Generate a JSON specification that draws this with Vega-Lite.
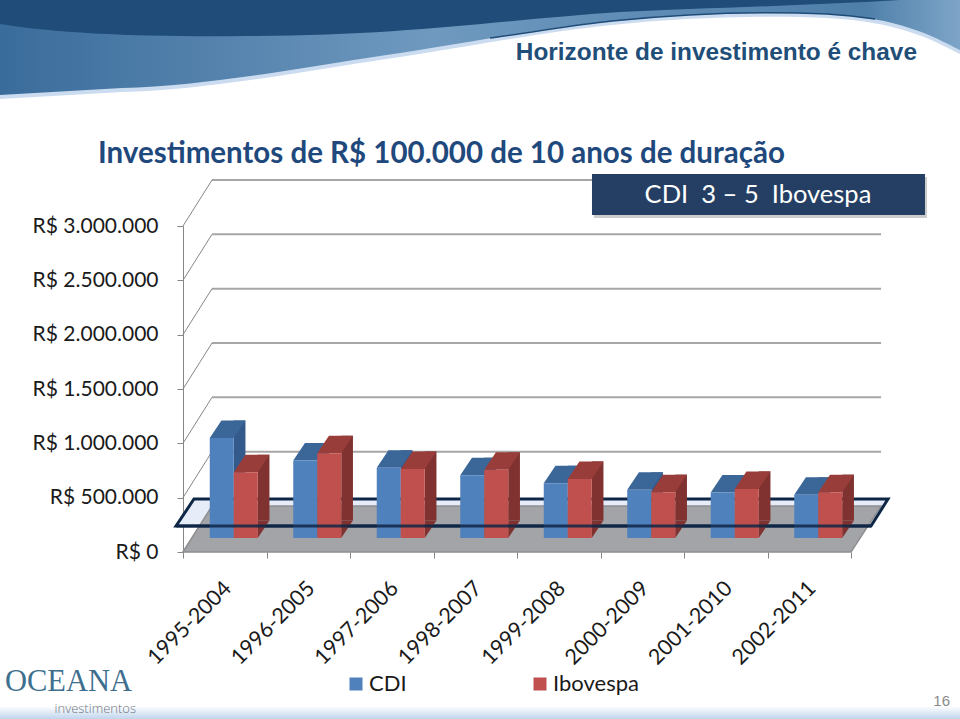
{
"$schema":"https://vega.github.io/schema/vega-lite/v6.json",
"width":960,"height":719,"autosize":"none","padding":0,"background":"white","view":{"stroke":null},
"datasets":{
"bars":[
{"period":"1995-2004","series":"CDI","value":920000},{"period":"1995-2004","series":"Ibovespa","value":606000},
{"period":"1996-2005","series":"CDI","value":713000},{"period":"1996-2005","series":"Ibovespa","value":781000},
{"period":"1997-2006","series":"CDI","value":646000},{"period":"1997-2006","series":"Ibovespa","value":634000},
{"period":"1998-2007","series":"CDI","value":578000},{"period":"1998-2007","series":"Ibovespa","value":627000},
{"period":"1999-2008","series":"CDI","value":504000},{"period":"1999-2008","series":"Ibovespa","value":544000},
{"period":"2000-2009","series":"CDI","value":443000},{"period":"2000-2009","series":"Ibovespa","value":422000},
{"period":"2001-2010","series":"CDI","value":418000},{"period":"2001-2010","series":"Ibovespa","value":452000},
{"period":"2002-2011","series":"CDI","value":397000},{"period":"2002-2011","series":"Ibovespa","value":422000}],
"levels":[{"level":0},{"level":500000},{"level":1000000},{"level":1500000},{"level":2000000},{"level":2500000},{"level":3000000}],
"one":[{"item":"decor"}]
},
"resolve":{"scale":{"x":"independent"},"axis":{"x":"independent","y":"independent"}},
"layer":[
{"data":{"name":"one"},"mark":{"type":"point","shape":"M0,0L960,0L960,50C930,35 900,18 827,14C760,11 680,14 612,21C540,28 440,48 367,58C290,70 200,86 122,88L0,95Z","size":4,"filled":true,"fill":"#C5D8EE","opacity":0.9,"strokeWidth":0,"yOffset":4},
 "encoding":{"x":{"datum":-2.1916,"type":"quantitative","scale":{"domain":[0,8],"range":[183,851],"nice":false,"zero":false},"axis":null},"y":{"datum":5079800,"type":"quantitative","scale":{"domain":[0,3000000],"range":[552,226],"nice":false,"zero":false},"axis":null}}},
{"data":{"name":"one"},"mark":{"type":"point","shape":"M0,0L960,0L960,50C930,35 900,18 827,14C760,11 680,14 612,21C540,28 440,48 367,58C290,70 200,86 122,88L0,95Z","size":4,"filled":true,"opacity":1,"strokeWidth":0,"fill":{"gradient":"linear","x1":0,"y1":0,"x2":1,"y2":0,"stops":[{"offset":0,"color":"#3A6C9B"},{"offset":0.45,"color":"#6F99BF"},{"offset":0.9,"color":"#4E7FA9"},{"offset":1,"color":"#7EA5C8"}]}},
 "encoding":{"x":{"datum":-2.1916,"type":"quantitative","scale":{"domain":[0,8],"range":[183,851],"nice":false,"zero":false},"axis":null},"y":{"datum":5079800,"type":"quantitative","scale":{"domain":[0,3000000],"range":[552,226],"nice":false,"zero":false},"axis":null}}},
{"data":{"name":"one"},"mark":{"type":"point","shape":"M0,0L900,0C800,6 700,8 620,12C500,20 400,36 245,36C150,37 60,34 0,24Z","size":4,"filled":true,"opacity":1,"strokeWidth":0,"fill":"#1F4C78"},
 "encoding":{"x":{"datum":-2.1916,"type":"quantitative","scale":{"domain":[0,8],"range":[183,851],"nice":false,"zero":false},"axis":null},"y":{"datum":5079800,"type":"quantitative","scale":{"domain":[0,3000000],"range":[552,226],"nice":false,"zero":false},"axis":null}}},
{"data":{"name":"one"},"mark":{"type":"point","shape":"M490,38C530,33 572,25 612,21C680,14 760,11 827,14C845,15 862,17 875,19","size":4,"filled":false,"opacity":1,"stroke":"#1F4C78","strokeWidth":1.5},
 "encoding":{"x":{"datum":-2.1916,"type":"quantitative","scale":{"domain":[0,8],"range":[183,851],"nice":false,"zero":false},"axis":null},"y":{"datum":5079800,"type":"quantitative","scale":{"domain":[0,3000000],"range":[552,226],"nice":false,"zero":false},"axis":null}}},
{"data":{"name":"one"},"mark":{"type":"point","shape":"M0,0L960,0L960,14L0,14Z","size":4,"filled":true,"opacity":1,"strokeWidth":0,"fill":{"gradient":"linear","x1":0,"y1":0,"x2":0,"y2":1,"stops":[{"offset":0,"color":"#FFFFFF"},{"offset":1,"color":"#BBD2EC"}]}},
 "encoding":{"x":{"datum":-2.1916,"type":"quantitative","scale":{"domain":[0,8],"range":[183,851],"nice":false,"zero":false},"axis":null},"y":{"datum":-1417000,"type":"quantitative","scale":{"domain":[0,3000000],"range":[552,226],"nice":false,"zero":false},"axis":null}}},
{"data":{"name":"levels"},"mark":{"type":"rule","color":"#A6A6A6","strokeWidth":2,"yOffset":-46},
 "encoding":{"x":{"datum":0.347,"type":"quantitative","scale":{"domain":[0,8],"range":[183,851],"nice":false,"zero":false},"axis":null},"x2":{"datum":8.36},
 "y":{"field":"level","type":"quantitative","scale":{"domain":[0,3000000],"range":[552,226],"nice":false,"zero":false},
 "axis":{"title":null,"values":[0,500000,1000000,1500000,2000000,2500000,3000000],"offset":-183,"grid":false,"domainColor":"#868686","tickColor":"#868686","tickSize":6,"labelPadding":19,"labelFont":"Lato","labelFontSize":21,"labelColor":"#1A1A1A","labelExpr":"'R$ ' + replace(format(datum.value, ',d'), /,/g, '.')"}}}},
{"data":{"name":"levels"},"mark":{"type":"point","shape":"M0,0L29,-46","size":4,"filled":false,"opacity":1,"stroke":"#868686","strokeWidth":1},
 "encoding":{"x":{"datum":0,"type":"quantitative","scale":{"domain":[0,8],"range":[183,851],"nice":false,"zero":false},"axis":null},"y":{"field":"level","type":"quantitative","scale":{"domain":[0,3000000],"range":[552,226],"nice":false,"zero":false},"axis":null}}},
{"data":{"name":"one"},"mark":{"type":"point","shape":"M0,0L18,-27L712,-27L695,0Z","size":4,"filled":true,"opacity":1,"fill":"#E6EDF8","strokeWidth":0},
 "encoding":{"x":{"datum":-0.084,"type":"quantitative","scale":{"domain":[0,8],"range":[183,851],"nice":false,"zero":false},"axis":null},"y":{"datum":239000,"type":"quantitative","scale":{"domain":[0,3000000],"range":[552,226],"nice":false,"zero":false},"axis":null}}},
{"data":{"name":"one"},"mark":{"type":"point","shape":"M0,0L29,-46L698,-46L668,0Z","size":4,"filled":true,"opacity":1,"fill":"#A3A4A8","stroke":"#8F8F92","strokeWidth":1.5},
 "encoding":{"x":{"datum":0,"type":"quantitative","scale":{"domain":[0,8],"range":[183,851],"nice":false,"zero":false},"axis":null},"y":{"datum":0,"type":"quantitative","scale":{"domain":[0,3000000],"range":[552,226],"nice":false,"zero":false},"axis":null}}},
{"data":{"name":"one"},"mark":{"type":"point","shape":"M0,0L18,-27L712,-27L695,0Z","size":4,"filled":false,"opacity":1,"stroke":"#0F2747","strokeWidth":3},
 "encoding":{"x":{"datum":-0.084,"type":"quantitative","scale":{"domain":[0,8],"range":[183,851],"nice":false,"zero":false},"axis":null},"y":{"datum":239000,"type":"quantitative","scale":{"domain":[0,3000000],"range":[552,226],"nice":false,"zero":false},"axis":null}}},

{"data":{"name":"bars"},"transform":[{"filter":"datum.series==='CDI'"}],"mark":{"type":"bar","color":"#335A8A","width":11.7,"xOffset":14.85,"yOffset":-31.5,"y2Offset":-31.5},
 "encoding":{"x":{"field":"period","type":"nominal","sort":null,"scale":{"range":[183,851],"paddingInner":0,"paddingOuter":0},
  "axis":{"title":null,"offset":-167,"domain":false,"tickColor":"#868686","tickSize":6,"tickBand":"extent","labelAngle":-45,"labelAlign":"right","labelBaseline":"middle","labelPadding":27,"labelOffset":3,"labelBound":false,"labelOverlap":false,"labelFont":"Lato","labelFontSize":21.5,"labelColor":"#1A1A1A"}},
  "y":{"field":"value","type":"quantitative","stack":null,"scale":{"domain":[0,3000000],"range":[552,226],"nice":false,"zero":false},"axis":null},"y2":{"datum":0}}},
{"data":{"name":"bars"},"transform":[{"filter":"datum.series==='CDI'"}],"mark":{"type":"point","shape":"M12,0L23.7,-17.5L12,-17.5Z","size":4,"filled":true,"opacity":1,"strokeWidth":0,"fill":"#335A8A","xOffset":-3,"yOffset":-14},
 "encoding":{"x":{"field":"period","type":"nominal","sort":null,"scale":{"range":[183,851],"paddingInner":0,"paddingOuter":0},"axis":null},"y":{"datum":0,"type":"quantitative","scale":{"domain":[0,3000000],"range":[552,226],"nice":false,"zero":false},"axis":null}}},
{"data":{"name":"bars"},"transform":[{"filter":"datum.series==='CDI'"}],"mark":{"type":"point","shape":"M-12,0L12,0L23.7,-17.5L-0.3,-17.5Z","size":4,"filled":true,"opacity":1,"strokeWidth":0,"fill":"#3B6698","xOffset":-3,"yOffset":-14},
 "encoding":{"x":{"field":"period","type":"nominal","sort":null,"scale":{"range":[183,851],"paddingInner":0,"paddingOuter":0},"axis":null},"y":{"field":"value","type":"quantitative","scale":{"domain":[0,3000000],"range":[552,226],"nice":false,"zero":false},"axis":null}}},
{"data":{"name":"bars"},"transform":[{"filter":"datum.series==='CDI'"}],"mark":{"type":"bar","width":24,"xOffset":-3,"yOffset":-14,"y2Offset":-14},
 "encoding":{"x":{"field":"period","type":"nominal","sort":null,"scale":{"range":[183,851],"paddingInner":0,"paddingOuter":0},"axis":null},"y":{"field":"value","type":"quantitative","stack":null,"scale":{"domain":[0,3000000],"range":[552,226],"nice":false,"zero":false},"axis":null},"y2":{"datum":0},
 "color":{"field":"series","type":"nominal","scale":{"domain":["CDI","Ibovespa"],"range":["#4F81BD","#C0504D"]},
  "legend":{"title":null,"orient":"none","legendX":345,"legendY":673,"direction":"horizontal","symbolType":"square","symbolSize":169,"symbolStrokeWidth":0,"symbolOpacity":1,"labelFont":"Lato","labelFontSize":22,"labelColor":"#1A1A1A","labelOffset":2,"columnPadding":122}}}},

{"data":{"name":"bars"},"transform":[{"filter":"datum.series==='Ibovespa'"}],"mark":{"type":"bar","color":"#7F3230","width":11.7,"xOffset":38.85,"yOffset":-31.5,"y2Offset":-31.5},
 "encoding":{"x":{"field":"period","type":"nominal","sort":null,"scale":{"range":[183,851],"paddingInner":0,"paddingOuter":0},"axis":null},"y":{"field":"value","type":"quantitative","stack":null,"scale":{"domain":[0,3000000],"range":[552,226],"nice":false,"zero":false},"axis":null},"y2":{"datum":0}}},
{"data":{"name":"bars"},"transform":[{"filter":"datum.series==='Ibovespa'"}],"mark":{"type":"point","shape":"M12,0L23.7,-17.5L12,-17.5Z","size":4,"filled":true,"opacity":1,"strokeWidth":0,"fill":"#7F3230","xOffset":21,"yOffset":-14},
 "encoding":{"x":{"field":"period","type":"nominal","sort":null,"scale":{"range":[183,851],"paddingInner":0,"paddingOuter":0},"axis":null},"y":{"datum":0,"type":"quantitative","scale":{"domain":[0,3000000],"range":[552,226],"nice":false,"zero":false},"axis":null}}},
{"data":{"name":"bars"},"transform":[{"filter":"datum.series==='Ibovespa'"}],"mark":{"type":"point","shape":"M-12,0L12,0L23.7,-17.5L-0.3,-17.5Z","size":4,"filled":true,"opacity":1,"strokeWidth":0,"fill":"#983D3A","xOffset":21,"yOffset":-14},
 "encoding":{"x":{"field":"period","type":"nominal","sort":null,"scale":{"range":[183,851],"paddingInner":0,"paddingOuter":0},"axis":null},"y":{"field":"value","type":"quantitative","scale":{"domain":[0,3000000],"range":[552,226],"nice":false,"zero":false},"axis":null}}},
{"data":{"name":"bars"},"transform":[{"filter":"datum.series==='Ibovespa'"}],"mark":{"type":"bar","width":24,"xOffset":21,"yOffset":-14,"y2Offset":-14},
 "encoding":{"x":{"field":"period","type":"nominal","sort":null,"scale":{"range":[183,851],"paddingInner":0,"paddingOuter":0},"axis":null},"y":{"field":"value","type":"quantitative","stack":null,"scale":{"domain":[0,3000000],"range":[552,226],"nice":false,"zero":false},"axis":null},"y2":{"datum":0},
 "color":{"field":"series","type":"nominal","scale":{"domain":["CDI","Ibovespa"],"range":["#4F81BD","#C0504D"]}}}},

{"data":{"name":"one"},"mark":{"type":"point","shape":"M0,0L695,0","size":4,"filled":false,"opacity":0.85,"stroke":"#0F2747","strokeWidth":3},
 "encoding":{"x":{"datum":-0.084,"type":"quantitative","scale":{"domain":[0,8],"range":[183,851],"nice":false,"zero":false},"axis":null},"y":{"datum":239000,"type":"quantitative","scale":{"domain":[0,3000000],"range":[552,226],"nice":false,"zero":false},"axis":null}}},
{"data":{"name":"one"},"mark":{"type":"point","shape":"M0,0L333,0L333,41L0,41Z","size":4,"filled":true,"opacity":0.25,"fill":"#333333","strokeWidth":0,"xOffset":2,"yOffset":3},
 "encoding":{"x":{"datum":4.898,"type":"quantitative","scale":{"domain":[0,8],"range":[183,851],"nice":false,"zero":false},"axis":null},"y":{"datum":3478500,"type":"quantitative","scale":{"domain":[0,3000000],"range":[552,226],"nice":false,"zero":false},"axis":null}}},
{"data":{"name":"one"},"mark":{"type":"point","shape":"M0,0L333,0L333,41L0,41Z","size":4,"filled":true,"opacity":1,"fill":"#243F63","strokeWidth":0},
 "encoding":{"x":{"datum":4.898,"type":"quantitative","scale":{"domain":[0,8],"range":[183,851],"nice":false,"zero":false},"axis":null},"y":{"datum":3478500,"type":"quantitative","scale":{"domain":[0,3000000],"range":[552,226],"nice":false,"zero":false},"axis":null}}},
{"data":{"values":[{"label":"CDI\u00a0\u00a03 – 5\u00a0\u00a0Ibovespa"}]},"mark":{"type":"text","font":"Lato","fontSize":25.5,"color":"white","align":"center","baseline":"middle"},
 "encoding":{"text":{"field":"label"},"x":{"datum":6.886,"type":"quantitative","scale":{"domain":[0,8],"range":[183,851],"nice":false,"zero":false},"axis":null},"y":{"datum":3285000,"type":"quantitative","scale":{"domain":[0,3000000],"range":[552,226],"nice":false,"zero":false},"axis":null}}},
{"data":{"values":[{"label":"Investimentos de R$ 100.000 de 10 anos de duração"}]},"mark":{"type":"text","font":"Lato","fontSize":29.5,"fontWeight":"bold","color":"#1F497D","align":"left","baseline":"middle"},
 "encoding":{"text":{"field":"label"},"x":{"datum":-1.018,"type":"quantitative","scale":{"domain":[0,8],"range":[183,851],"nice":false,"zero":false},"axis":null},"y":{"datum":3663000,"type":"quantitative","scale":{"domain":[0,3000000],"range":[552,226],"nice":false,"zero":false},"axis":null}}},
{"data":{"values":[{"label":"Horizonte de investimento é chave"}]},"mark":{"type":"text","font":"Liberation Sans","fontSize":24.4,"fontWeight":"bold","color":"#1F4E79","align":"right","baseline":"middle"},
 "encoding":{"text":{"field":"label"},"x":{"datum":8.79,"type":"quantitative","scale":{"domain":[0,8],"range":[183,851],"nice":false,"zero":false},"axis":null},"y":{"datum":4592000,"type":"quantitative","scale":{"domain":[0,3000000],"range":[552,226],"nice":false,"zero":false},"axis":null}}},
{"data":{"values":[{"label":"OCEANA"}]},"mark":{"type":"text","font":"Liberation Serif","fontSize":30.5,"color":"#3E6F8E","align":"left","baseline":"middle"},
 "encoding":{"text":{"field":"label"},"x":{"datum":-2.132,"type":"quantitative","scale":{"domain":[0,8],"range":[183,851],"nice":false,"zero":false},"axis":null},"y":{"datum":-1197000,"type":"quantitative","scale":{"domain":[0,3000000],"range":[552,226],"nice":false,"zero":false},"axis":null}}},
{"data":{"values":[{"label":"investimentos"}]},"mark":{"type":"text","font":"Open Sans","fontWeight":300,"fontSize":13,"color":"#6E7780","align":"right","baseline":"middle"},
 "encoding":{"text":{"field":"label"},"x":{"datum":-0.563,"type":"quantitative","scale":{"domain":[0,8],"range":[183,851],"nice":false,"zero":false},"axis":null},"y":{"datum":-1445000,"type":"quantitative","scale":{"domain":[0,3000000],"range":[552,226],"nice":false,"zero":false},"axis":null}}},
{"data":{"values":[{"label":"16"}]},"mark":{"type":"text","font":"Liberation Sans","fontSize":15,"color":"#8A8A8A","align":"right","baseline":"middle"},
 "encoding":{"text":{"field":"label"},"x":{"datum":9.186,"type":"quantitative","scale":{"domain":[0,8],"range":[183,851],"nice":false,"zero":false},"axis":null},"y":{"datum":-1371000,"type":"quantitative","scale":{"domain":[0,3000000],"range":[552,226],"nice":false,"zero":false},"axis":null}}}
]
}
